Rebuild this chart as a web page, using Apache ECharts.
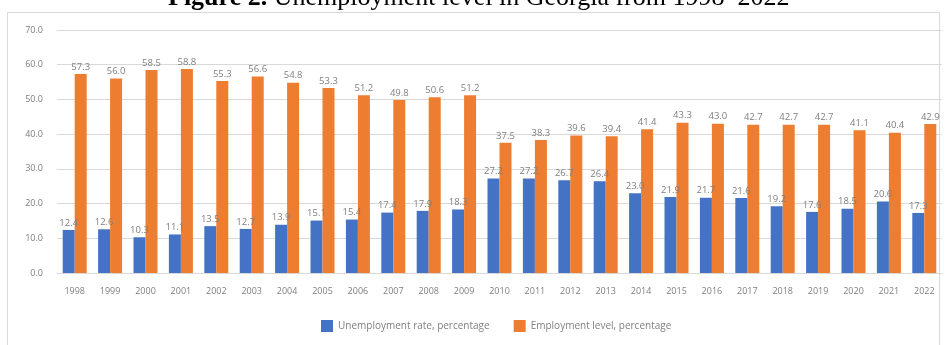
<!DOCTYPE html>
<html>
<head>
<meta charset="utf-8">
<script src="https://cdn.jsdelivr.net/npm/echarts@6/dist/echarts.min.js"></script>
<style>
  html, body { margin: 0; padding: 0; background: #fff; }
  #chart { width: 949px; height: 345px; }
</style>
</head>
<body>
<div id="chart"></div>
<script>
const years = ['1998','1999','2000','2001','2002','2003','2004','2005','2006','2007','2008','2009','2010',
  '2011','2012','2013','2014','2015','2016','2017','2018','2019','2020','2021','2022'];
const unemployment = [12.4,12.6,10.3,11.1,13.5,12.7,13.9,15.1,15.4,17.4,17.9,18.3,27.2,27.2,26.7,26.4,23.0,21.9,21.7,21.6,19.2,17.6,18.5,20.6,17.3];
const employment = [57.3,56.0,58.5,58.8,55.3,56.6,54.8,53.3,51.2,49.8,50.6,51.2,37.5,38.3,39.6,39.4,41.4,43.3,43.0,42.7,42.7,42.7,41.1,40.4,42.9];

const chart = echarts.init(document.getElementById('chart'));
const labelStyle = {
  show: true,
  position: 'top',
  distance: 2,
  color: '#7f7f7f',
  fontSize: 9.5,
  fontFamily: 'Open Sans',
  formatter: p => p.value.toFixed(1)
};

chart.setOption({
  animation: false,
  title: {
    text: '{b|Figure 2.} Unemployment level in Georgia from 1998–2022',
    left: 163,
    top: -20,
    textStyle: {
      fontFamily: 'Liberation Serif',
      fontSize: 26,
      fontWeight: 'normal',
      color: '#000',
      rich: { b: { fontFamily: 'Liberation Serif', fontSize: 26, fontWeight: 'bold', color: '#000' } }
    }
  },
  graphic: [{
    type: 'rect',
    shape: { x: 7.5, y: 12.5, width: 932, height: 340 },
    style: { fill: 'none', stroke: '#d9d9d9', lineWidth: 1 },
    z: -1
  }],
  legend: {
    bottom: 8,
    left: 316,
    itemWidth: 12,
    itemHeight: 12,
    itemGap: 24,
    icon: 'rect',
    textStyle: { color: '#7f7f7f', fontSize: 10, fontFamily: 'Open Sans' }
  },
  grid: { left: 57, right: 7, top: 30, bottom: 72 },
  xAxis: {
    type: 'category',
    data: years,
    axisLine: { lineStyle: { color: '#d9d9d9' } },
    axisTick: { show: false },
    axisLabel: { color: '#7f7f7f', fontSize: 9, fontFamily: 'Open Sans', margin: 14 }
  },
  yAxis: {
    type: 'value',
    min: 0,
    max: 70,
    interval: 10,
    axisLine: { show: false },
    axisTick: { show: false },
    axisLabel: { color: '#7f7f7f', fontSize: 9, fontFamily: 'Open Sans', margin: 14, formatter: v => v.toFixed(1) },
    splitLine: { lineStyle: { color: '#d9d9d9' } }
  },
  series: [
    {
      name: 'Unemployment rate, percentage',
      type: 'bar',
      data: unemployment,
      barWidth: 12,
      barGap: '0%',
      itemStyle: { color: '#4472C4' },
      label: labelStyle
    },
    {
      name: 'Employment level, percentage',
      type: 'bar',
      data: employment,
      barWidth: 12,
      itemStyle: { color: '#ED7D31' },
      label: labelStyle
    }
  ]
});
</script>
</body>
</html>
